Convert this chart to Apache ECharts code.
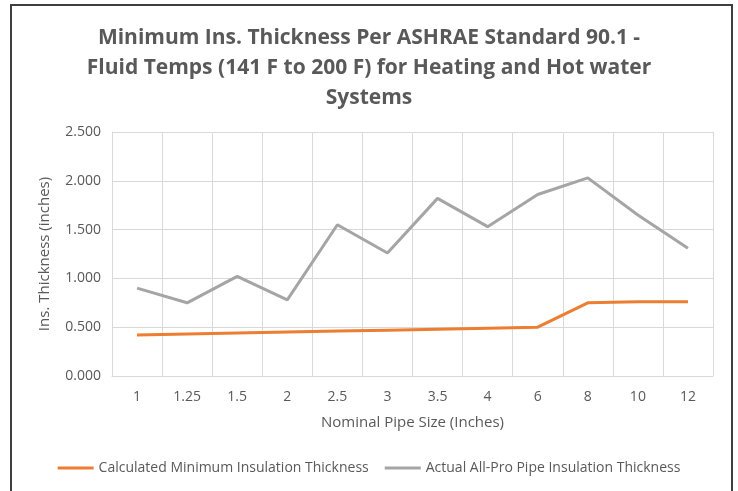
<!DOCTYPE html>
<html>
<head>
<meta charset="utf-8">
<script src="https://cdn.jsdelivr.net/npm/echarts@6/dist/echarts.min.js"></script>
<style>
html,body{margin:0;padding:0;background:#fff;}
#chart{width:738px;height:491px;}
</style>
</head>
<body>
<div id="chart"></div>
<script>
var categories = ['1','1.25','1.5','2','2.5','3','3.5','4','6','8','10','12'];
var calculatedMin = [0.42,0.43,0.44,0.45,0.46,0.47,0.48,0.49,0.50,0.75,0.76,0.76];
var actualAllPro = [0.90,0.75,1.02,0.78,1.55,1.26,1.82,1.53,1.86,2.03,1.65,1.31];
var titleText = 'Minimum Ins. Thickness Per ASHRAE Standard 90.1 -\nFluid Temps (141 F to 200 F) for Heating and Hot water\nSystems';
var seriesNames = ['Calculated Minimum Insulation Thickness','Actual All-Pro Pipe Insulation Thickness'];

var font = 'Open Sans';
var chart = echarts.init(document.getElementById('chart'), null, {renderer:'canvas'});
chart.setOption({
  animation:false,
  backgroundColor:'#ffffff',
  graphic:[{
    type:'rect', silent:true,
    shape:{x:11,y:5,width:721,height:520},
    style:{fill:'none',stroke:'#3f3f3f',lineWidth:2}
  }],
  title:{
    text:titleText,
    left:'center', top:18,
    textStyle:{fontFamily:font,fontWeight:'bold',fontSize:21,color:'#595959',lineHeight:30}
  },
  legend:{
    bottom:11, left:'center',
    itemWidth:36, itemHeight:3, itemGap:16,
    icon:'rect',
    textStyle:{fontFamily:font,fontSize:14,color:'#595959'},
    data:seriesNames
  },
  grid:{left:112,right:25,top:132,bottom:115},
  xAxis:{
    type:'category', data:categories, boundaryGap:true,
    name:'Nominal Pipe Size (Inches)', nameLocation:'middle', nameGap:39,
    nameTextStyle:{fontFamily:font,fontSize:15,color:'#595959'},
    axisLine:{lineStyle:{color:'#d9d9d9',width:1}},
    axisTick:{show:false},
    axisLabel:{fontFamily:font,fontSize:14,color:'#595959',margin:14},
    splitLine:{show:true,lineStyle:{color:'#d9d9d9',width:1}}
  },
  yAxis:{
    type:'value', min:0, max:2.5, interval:0.5,
    name:'Ins. Thickness (inches)', nameLocation:'middle', nameGap:60,
    nameTextStyle:{fontFamily:font,fontSize:15,color:'#595959'},
    axisLine:{show:true,lineStyle:{color:'#d9d9d9'}},
    axisTick:{show:false},
    axisLabel:{fontFamily:font,fontSize:14,color:'#595959',margin:11,
      formatter:function(v){return v.toFixed(3);}},
    splitLine:{show:true,lineStyle:{color:'#d9d9d9',width:1}}
  },
  series:[
    {name:seriesNames[0],type:'line',data:calculatedMin,showSymbol:false,symbol:'none',
     lineStyle:{color:'#ed7d31',width:3},itemStyle:{color:'#ed7d31'}},
    {name:seriesNames[1],type:'line',data:actualAllPro,showSymbol:false,symbol:'none',
     lineStyle:{color:'#a5a5a5',width:3},itemStyle:{color:'#a5a5a5'}}
  ]
});
</script>
</body>
</html>
